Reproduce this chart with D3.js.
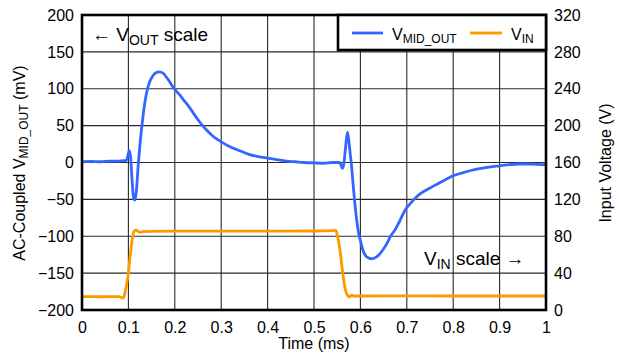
<!DOCTYPE html>
<html>
<head>
<meta charset="utf-8">
<script src="https://cdn.jsdelivr.net/npm/d3@7"></script>
<style>
  html, body { margin: 0; padding: 0; background: #fff; }
  svg text { font-family: "Liberation Sans", Arial, Helvetica, sans-serif; fill: #000; }
</style>
</head>
<body>
<svg id="chart" width="619" height="355"></svg>
<script>
// Time axis (ms)
const timeTicks = [0, 0.1, 0.2, 0.3, 0.4, 0.5, 0.6, 0.7, 0.8, 0.9, 1];
const timeTickLabels = ["0", "0.1", "0.2", "0.3", "0.4", "0.5", "0.6", "0.7", "0.8", "0.9", "1"];
// Left axis: AC-coupled output (mV)
const mvTicks = [-200, -150, -100, -50, 0, 50, 100, 150, 200];
// Right axis: input voltage (V)
const vTicks = [0, 40, 80, 120, 160, 200, 240, 280, 320];

// V_MID_OUT trace: time (ms) and value (mV)
const midOutTime = [0, 0.02, 0.04, 0.06, 0.08, 0.09, 0.096, 0.099, 0.102, 0.105, 0.108, 0.111, 0.114, 0.117,
  0.121, 0.125, 0.129, 0.134, 0.139, 0.145, 0.152, 0.16, 0.167, 0.175, 0.185, 0.2, 0.21, 0.22, 0.23, 0.24,
  0.25, 0.26, 0.27, 0.28, 0.29, 0.3, 0.32, 0.34, 0.36, 0.38, 0.4, 0.42, 0.44, 0.46, 0.48, 0.5, 0.52, 0.54,
  0.555, 0.558, 0.561, 0.564, 0.568, 0.572, 0.575, 0.578, 0.581, 0.585, 0.588, 0.592, 0.596, 0.6, 0.606,
  0.612, 0.618, 0.624, 0.632, 0.64, 0.649, 0.657, 0.665, 0.675, 0.685, 0.696, 0.707, 0.718, 0.73, 0.746,
  0.76, 0.775, 0.79, 0.8, 0.82, 0.84, 0.86, 0.88, 0.9, 0.92, 0.94, 0.96, 0.98, 1.0];
const midOutMv = [1, 1.5, 1, 2, 2, 2.5, 3, 10, 16, 5, -25, -47, -51, -40,
  -5, 25, 49, 75, 94, 108, 117, 122, 123, 121, 113, 99, 92, 84, 76, 67,
  58, 50, 43, 37, 32, 28, 21, 16, 11, 8, 6, 4, 2, 1, 0, -0.5, -1, 0,
  0, -3, -8, -3, 20, 41, 30, 12, -5, -35, -55, -78, -95, -106, -120,
  -127, -129.5, -130.5, -129, -125, -118, -110, -100, -91, -79, -65, -56, -48.5, -42, -36,
  -31, -26, -21, -18, -14, -10.5, -8, -6, -4.5, -3, -2, -2, -2.5, -3];

// V_IN trace: time (ms) and value (V)
const vinTime = [0, 0.04, 0.08, 0.085, 0.088, 0.091, 0.094, 0.097, 0.1, 0.103, 0.106, 0.109, 0.112, 0.116,
  0.12, 0.125, 0.13, 0.15, 0.2, 0.3, 0.4, 0.5, 0.54, 0.546, 0.549, 0.553, 0.557, 0.56, 0.563, 0.566,
  0.569, 0.573, 0.576, 0.581, 0.586, 0.6, 0.7, 0.8, 0.9, 1.0];
const vinVolts = [14.5, 14.4, 14.5, 13.5, 12.7, 15, 22, 30, 40, 55, 68, 79, 85, 87,
  85.5, 84.3, 85, 85.3, 85.5, 85.6, 85.6, 85.7, 86, 86.5, 84, 74, 61.5, 48, 36, 26,
  19.5, 15.5, 14, 16, 15.2, 15.2, 15.3, 15.2, 15.2, 15.2];

const midOut = midOutTime.map((t, i) => ({ t, v: midOutMv[i] }));
const vin = vinTime.map((t, i) => ({ t, v: vinVolts[i] }));

const svg = d3.select("#chart");
const plot = { left: 82, right: 546, top: 15, bottom: 310 };

const x = d3.scaleLinear().domain([0, 1]).range([plot.left, plot.right]);
const yMv = d3.scaleLinear().domain([-200, 200]).range([plot.bottom, plot.top]);
const yV = d3.scaleLinear().domain([0, 320]).range([plot.bottom, plot.top]);

const blue = "#3366ff";
const orange = "#ff9900";

// Grid
const grid = svg.append("g").attr("stroke", "#2a2a2a").attr("stroke-width", 1.1);
grid.selectAll("line.v").data(timeTicks.slice(1, -1)).join("line")
  .attr("x1", d => x(d)).attr("x2", d => x(d))
  .attr("y1", plot.top).attr("y2", plot.bottom);
grid.selectAll("line.h").data(mvTicks.slice(1, -1)).join("line")
  .attr("y1", d => yMv(d)).attr("y2", d => yMv(d))
  .attr("x1", plot.left).attr("x2", plot.right);

// Axes (labels only; the frame is drawn separately)
const fs = 16;
const xAxis = d3.axisBottom(x).tickValues(timeTicks)
  .tickFormat((d, i) => timeTickLabels[i]).tickSize(0).tickPadding(12);
svg.append("g").attr("transform", `translate(0,${plot.bottom})`).call(xAxis)
  .call(g => g.select(".domain").remove())
  .call(g => g.selectAll("text").attr("font-size", fs).attr("font-family", null));

const yLeft = d3.axisLeft(yMv).tickValues(mvTicks).tickFormat(d3.format("d")).tickSize(0).tickPadding(8);
svg.append("g").attr("transform", `translate(${plot.left},0)`).call(yLeft)
  .call(g => g.select(".domain").remove())
  .call(g => g.selectAll("text").attr("font-size", fs).attr("font-family", null));

const yRight = d3.axisRight(yV).tickValues(vTicks).tickFormat(d3.format("d")).tickSize(0).tickPadding(8);
svg.append("g").attr("transform", `translate(${plot.right},0)`).call(yRight)
  .call(g => g.select(".domain").remove())
  .call(g => g.selectAll("text").attr("font-size", fs).attr("font-family", null));

// Traces
const lineMv = d3.line().x(d => x(d.t)).y(d => yMv(d.v)).curve(d3.curveMonotoneX);
const lineV = d3.line().x(d => x(d.t)).y(d => yV(d.v)).curve(d3.curveMonotoneX);

svg.append("path").datum(vin).attr("d", lineV)
  .attr("fill", "none").attr("stroke", orange).attr("stroke-width", 2.8)
  .attr("stroke-linejoin", "round");
svg.append("path").datum(midOut).attr("d", lineMv)
  .attr("fill", "none").attr("stroke", blue).attr("stroke-width", 2.8)
  .attr("stroke-linejoin", "round");

// Frame
svg.append("rect")
  .attr("x", plot.left).attr("y", plot.top)
  .attr("width", plot.right - plot.left).attr("height", plot.bottom - plot.top)
  .attr("fill", "none").attr("stroke", "#000").attr("stroke-width", 2.6);

// Helper: text with a subscript
function subText(g, xPos, yPos, parts, size, subSize) {
  const t = g.append("text").attr("x", xPos).attr("y", yPos).attr("font-size", size);
  parts.forEach(p => {
    if (p.sub) {
      t.append("tspan").attr("font-size", subSize).attr("dy", size * 0.2).text(p.text);
    } else {
      const s = t.append("tspan").text(p.text);
      if (p.reset) s.attr("dy", -size * 0.2);
    }
  });
  return t;
}

// Scale annotations
subText(svg, 92, 41, [{ text: "\u2190 V" }, { text: "OUT", sub: true }, { text: " scale", reset: true }], 19, 14);
subText(svg, 424, 265, [{ text: "V" }, { text: "IN", sub: true }, { text: " scale \u2192", reset: true }], 19, 14);

// Legend
const leg = svg.append("g");
leg.append("rect").attr("x", 338).attr("y", plot.top).attr("width", plot.right - 338).attr("height", 35)
  .attr("fill", "#fff").attr("stroke", "#000").attr("stroke-width", 2.6);
leg.append("line").attr("x1", 352).attr("x2", 383).attr("y1", 33).attr("y2", 33)
  .attr("stroke", blue).attr("stroke-width", 2.8);
subText(leg, 392, 40, [{ text: "V" }, { text: "MID_OUT", sub: true }], 16, 12);
leg.append("line").attr("x1", 470).attr("x2", 502).attr("y1", 33).attr("y2", 33)
  .attr("stroke", orange).attr("stroke-width", 2.8);
subText(leg, 511, 40, [{ text: "V" }, { text: "IN", sub: true }], 16, 12);

// Axis titles
const ttl = (xPos, yPos) => svg.append("g").attr("transform", `translate(${xPos},${yPos}) rotate(-90)`);
const lt = ttl(25, 163).append("text").attr("text-anchor", "middle").attr("font-size", 16);
lt.append("tspan").text("AC-Coupled V");
lt.append("tspan").attr("font-size", 12).attr("dy", 3).text("MID_OUT");
lt.append("tspan").attr("dy", -3).text(" (mV)");

ttl(611, 163).append("text").attr("text-anchor", "middle").attr("font-size", 16).text("Input Voltage (V)");

svg.append("text").attr("x", 314).attr("y", 349).attr("text-anchor", "middle")
  .attr("font-size", 16).text("Time (ms)");
</script>
</body>
</html>
